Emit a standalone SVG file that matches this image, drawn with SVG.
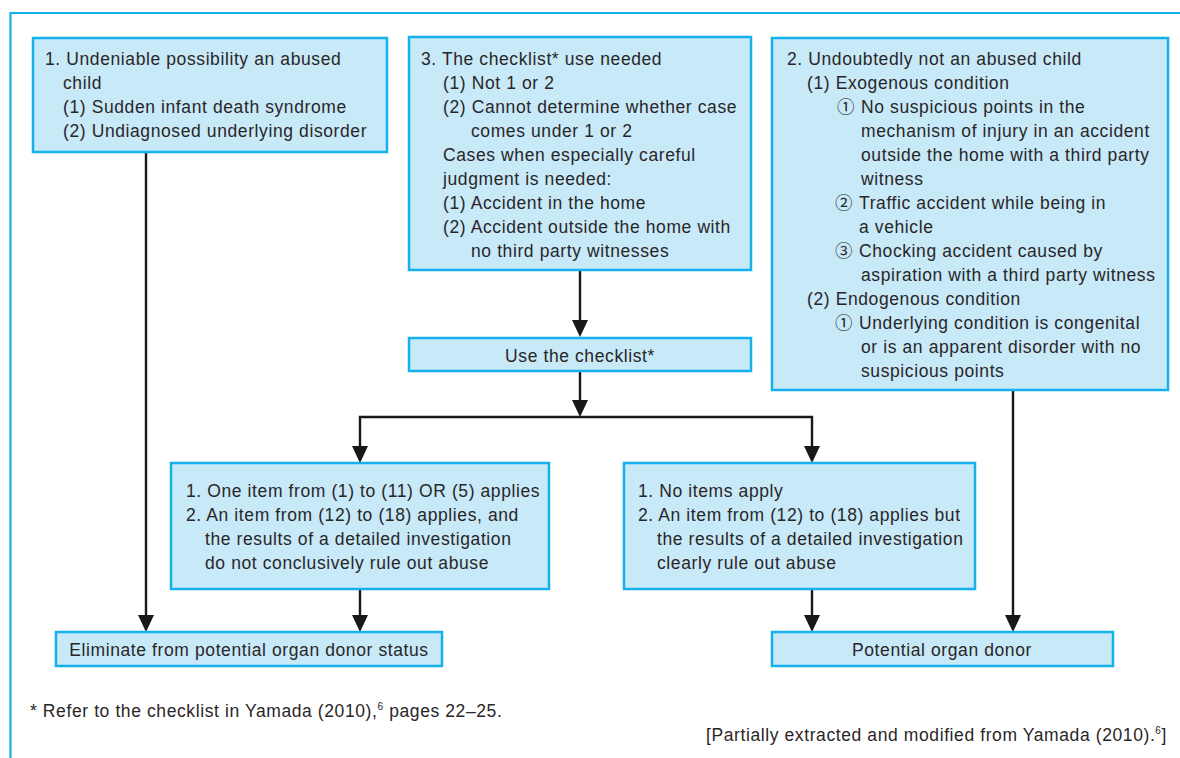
<svg xmlns="http://www.w3.org/2000/svg" width="1180" height="758" viewBox="0 0 1180 758">
<defs>
<style>
.box{fill:#c7e9f8;stroke:#14b1ec;stroke-width:2.5}
.t{font-family:"Liberation Sans","Noto Sans CJK JP",sans-serif;font-size:17.5px;letter-spacing:0.6px;fill:#2a2627}
.c{text-anchor:middle}
.ln{stroke:#1a1718;stroke-width:2.4;fill:none}
.ah{fill:#1a1718}
.frame{stroke:#14b1ec;stroke-width:2.2;fill:none}
</style>
</defs>
<rect width="1180" height="758" fill="#ffffff"/>
<path class="frame" d="M1180,13 H10.5 V758"/>

<g id="connectors">
<path class="ln" d="M580,270 V321"/>
<path class="ah" d="M572,320 L588,320 L580,337 Z"/>
<path class="ln" d="M580,371 V400"/>
<path class="ah" d="M572,400 L588,400 L580,417 Z"/>
<path class="ln" d="M360,446 V417 H812 V446"/>
<path class="ah" d="M352,446 L368,446 L360,463 Z"/>
<path class="ah" d="M804,446 L820,446 L812,463 Z"/>
<path class="ln" d="M146,152 V615"/>
<path class="ah" d="M138,615 L154,615 L146,632 Z"/>
<path class="ln" d="M360,589 V615"/>
<path class="ah" d="M352,615 L368,615 L360,632 Z"/>
<path class="ln" d="M812,589 V615"/>
<path class="ah" d="M804,615 L820,615 L812,632 Z"/>
<path class="ln" d="M1013,390 V615"/>
<path class="ah" d="M1005,615 L1021,615 L1013,632 Z"/>
</g>

<g id="node1">
<rect class="box" x="33" y="38" width="354" height="114"/>
<text class="t" x="45" y="65">1. Undeniable possibility an abused</text>
<text class="t" x="63" y="89">child</text>
<text class="t" x="63" y="113">(1) Sudden infant death syndrome</text>
<text class="t" x="63" y="137">(2) Undiagnosed underlying disorder</text>
</g>

<g id="node3">
<rect class="box" x="409" y="37" width="342" height="233"/>
<text class="t" x="421" y="65">3. The checklist* use needed</text>
<text class="t" x="443" y="89">(1) Not 1 or 2</text>
<text class="t" x="443" y="113">(2) Cannot determine whether case</text>
<text class="t" x="471" y="137">comes under 1 or 2</text>
<text class="t" x="443" y="161">Cases when especially careful</text>
<text class="t" x="443" y="185">judgment is needed:</text>
<text class="t" x="443" y="209">(1) Accident in the home</text>
<text class="t" x="443" y="233">(2) Accident outside the home with</text>
<text class="t" x="471" y="257">no third party witnesses</text>
</g>

<g id="node2">
<rect class="box" x="772" y="38" width="396" height="352"/>
<text class="t" x="787" y="65">2. Undoubtedly not an abused child</text>
<text class="t" x="807" y="89">(1) Exogenous condition</text>
<text class="t" x="837" y="113">①</text>
<text class="t" x="861" y="113">No suspicious points in the</text>
<text class="t" x="861" y="137">mechanism of injury in an accident</text>
<text class="t" x="861" y="161">outside the home with a third party</text>
<text class="t" x="861" y="185">witness</text>
<text class="t" x="835" y="209">②</text>
<text class="t" x="859" y="209">Traffic accident while being in</text>
<text class="t" x="859" y="233">a vehicle</text>
<text class="t" x="835" y="257">③</text>
<text class="t" x="859" y="257">Chocking accident caused by</text>
<text class="t" x="861" y="281">aspiration with a third party witness</text>
<text class="t" x="807" y="305">(2) Endogenous condition</text>
<text class="t" x="835" y="329">①</text>
<text class="t" x="859" y="329">Underlying condition is congenital</text>
<text class="t" x="861" y="353">or is an apparent disorder with no</text>
<text class="t" x="861" y="377">suspicious points</text>
</g>

<g id="node-use">
<rect class="box" x="409" y="338" width="342" height="33"/>
<text class="t c" x="580" y="362">Use the checklist*</text>
</g>

<g id="node-left">
<rect class="box" x="171" y="463" width="378" height="126"/>
<text class="t" x="186" y="497">1. One item from (1) to (11) OR (5) applies</text>
<text class="t" x="186" y="521">2. An item from (12) to (18) applies, and</text>
<text class="t" x="205" y="545">the results of a detailed investigation</text>
<text class="t" x="205" y="569">do not conclusively rule out abuse</text>
</g>

<g id="node-right">
<rect class="box" x="624" y="463" width="351" height="126"/>
<text class="t" x="638" y="497">1. No items apply</text>
<text class="t" x="638" y="521">2. An item from (12) to (18) applies but</text>
<text class="t" x="657" y="545">the results of a detailed investigation</text>
<text class="t" x="657" y="569">clearly rule out abuse</text>
</g>

<g id="node-eliminate">
<rect class="box" x="56" y="632" width="386" height="34"/>
<text class="t c" x="249" y="656">Eliminate from potential organ donor status</text>
</g>

<g id="node-potential">
<rect class="box" x="772" y="632" width="341" height="34"/>
<text class="t c" x="942" y="656">Potential organ donor</text>
</g>

<g id="notes">
<text class="t" x="30" y="717">* Refer to the checklist in Yamada (2010),<tspan font-size="10" dy="-7">6</tspan><tspan dy="7"> pages 22–25.</tspan></text>
<text class="t" x="1167" y="741" text-anchor="end">[Partially extracted and modified from Yamada (2010).<tspan font-size="10" dy="-7">6</tspan><tspan dy="7">]</tspan></text>
</g>
</svg>
